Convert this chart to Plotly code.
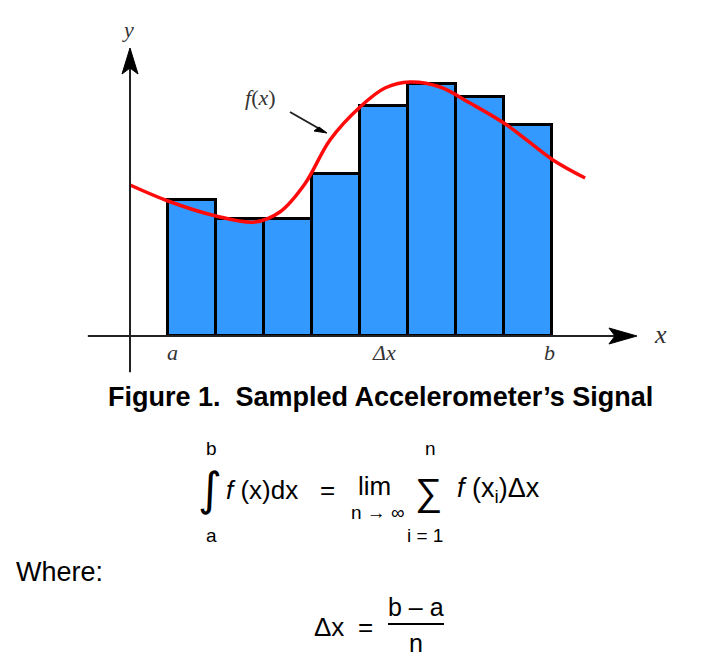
import plotly.graph_objects as go

# ---------------- data ----------------
bar_x = [1, 2, 3, 4, 5, 6, 7, 8]
bar_heights = [5.45, 4.7, 4.7, 6.5, 9.2, 10.1, 9.55, 8.45]

curve_x = [-0.29, 0.5, 1.5, 2.31, 2.83, 3.35, 3.875, 4.5, 5.02, 5.54, 6.17, 6.79, 7.56, 8.52, 9.19]
curve_y = [6.04, 5.4, 4.8, 4.56, 4.96, 6.08, 7.84, 9.16, 9.92, 10.16, 9.96, 9.32, 8.44, 7.04, 6.32]

tick_labels = ["a", "Δx", "b"]
tick_positions = [0.6, 5.0, 8.45]

caption = "Figure 1.  Sampled Accelerometer’s Signal"

W, H = 703, 666
XR = [-3.0, 11.646]
YR = [-13.2, 13.44]


def PX(x):
    return x / W


def PY(y):
    return 1 - y / H


fig = go.Figure()

fig.add_trace(go.Bar(
    x=bar_x, y=bar_heights, width=1,
    marker=dict(color="#3399ff", line=dict(color="black", width=3)),
    hoverinfo="skip", showlegend=False,
))

fig.add_trace(go.Scatter(
    x=curve_x, y=curve_y, mode="lines",
    line=dict(color="#ff0a0a", width=3.5, shape="spline", smoothing=1.0),
    hoverinfo="skip", showlegend=False,
))

shapes = []
# x axis line
shapes.append(dict(type="line", xref="x", yref="y", x0=-1.17, x1=9.8, y0=0, y1=0,
                   line=dict(color="#222", width=2)))
# y axis line
shapes.append(dict(type="line", xref="x", yref="y", x0=-0.2917, x1=-0.2917, y0=-1.45, y1=10.8,
                   line=dict(color="#222", width=2)))
# x axis arrow head
shapes.append(dict(type="path", xref="x", yref="y", xsizemode="pixel", ysizemode="pixel",
                   xanchor=10.27, yanchor=0,
                   path="M0,0 L-28,8 L-22,0 L-28,-8 Z",
                   fillcolor="black", line=dict(color="black", width=1)))
# y axis arrow head
shapes.append(dict(type="path", xref="x", yref="y", xsizemode="pixel", ysizemode="pixel",
                   xanchor=-0.2917, yanchor=(336 - 48) / 25.0,
                   path="M0,0 L-8,-26 L0,-20 L8,-26 Z",
                   fillcolor="black", line=dict(color="black", width=1)))
# fraction line
shapes.append(dict(type="line", xref="paper", yref="paper",
                   x0=PX(388), x1=PX(444), y0=PY(624), y1=PY(624),
                   line=dict(color="black", width=2)))
# f(x) pointer line (arrow shaft)
shapes.append(dict(type="line", xref="paper", yref="paper",
                   x0=PX(290), x1=PX(318), y0=PY(112), y1=PY(128),
                   line=dict(color="#222", width=2)))
# f(x) pointer arrow head
shapes.append(dict(type="path", xref="paper", yref="paper", xsizemode="pixel", ysizemode="pixel",
                   xanchor=PX(327), yanchor=PY(133),
                   path="M0,0 L-13,2 L-8,6 Z",
                   fillcolor="black", line=dict(color="black", width=1)))

hand = dict(family="Liberation Serif", size=22, color="#333")
annotations = []


def txt(x, y, t, font, xanchor="center"):
    annotations.append(dict(x=PX(x), y=PY(y), xref="paper", yref="paper", text=t,
                            showarrow=False, font=font, xanchor=xanchor, yanchor="middle"))


# axis labels
txt(128, 30, "<i>y</i>", hand)
txt(660, 334, "<i>x</i>", dict(family="Liberation Serif", size=26, color="#333"))
for lab, xp in zip(tick_labels, tick_positions):
    annotations.append(dict(x=xp, y=-0.65, xref="x", yref="y", text="<i>" + lab + "</i>",
                            showarrow=False, font=hand, xanchor="center", yanchor="middle"))

# f(x) label
txt(260, 97, "<i>f</i>(<i>x</i>)", hand)

# caption
txt(380, 397, "<b>" + caption + "</b>", dict(family="Liberation Sans", size=27, color="black"))

sans = dict(family="Liberation Sans", size=26, color="black")
small = dict(family="Liberation Sans", size=19, color="black")

# integral formula
txt(212, 448, "b", small)
txt(212, 535, "a", small)
txt(210, 489, "∫", dict(family="DejaVu Sans", size=46, color="black"))
txt(224, 490, "<i>f</i> (x)dx", sans, "left")
txt(327, 490, "=", sans)
txt(375, 486, "lim", sans)
txt(378, 512, "n → ∞", small)
txt(428, 492, "∑", dict(family="Liberation Sans", size=38, color="black"))
txt(430, 448, "n", small)
txt(425, 535, "i = 1", small)
txt(455, 490, "<i>f</i> (x<sub>i</sub>)Δx", dict(family="Liberation Sans", size=27, color="black"), "left")

# where
txt(14, 572, "Where:", dict(family="Liberation Sans", size=27, color="black"), "left")
txt(312, 627, "Δx", dict(family="Liberation Sans", size=26, color="black"), "left")
txt(365, 627, "=", sans)
txt(416, 607, "b – a", dict(family="Liberation Sans", size=25, color="black"))
txt(416, 643, "n", dict(family="Liberation Sans", size=25, color="black"))

fig.update_layout(
    width=W, height=H, autosize=False,
    margin=dict(l=0, r=0, t=0, b=0),
    paper_bgcolor="white", plot_bgcolor="white",
    xaxis=dict(range=XR, visible=False, fixedrange=True),
    yaxis=dict(range=YR, visible=False, fixedrange=True),
    shapes=shapes, annotations=annotations,
    bargap=0,
)

fig.write_html("out.html", config={"displayModeBar": False},
               post_script="document.body.style.margin='0';")
